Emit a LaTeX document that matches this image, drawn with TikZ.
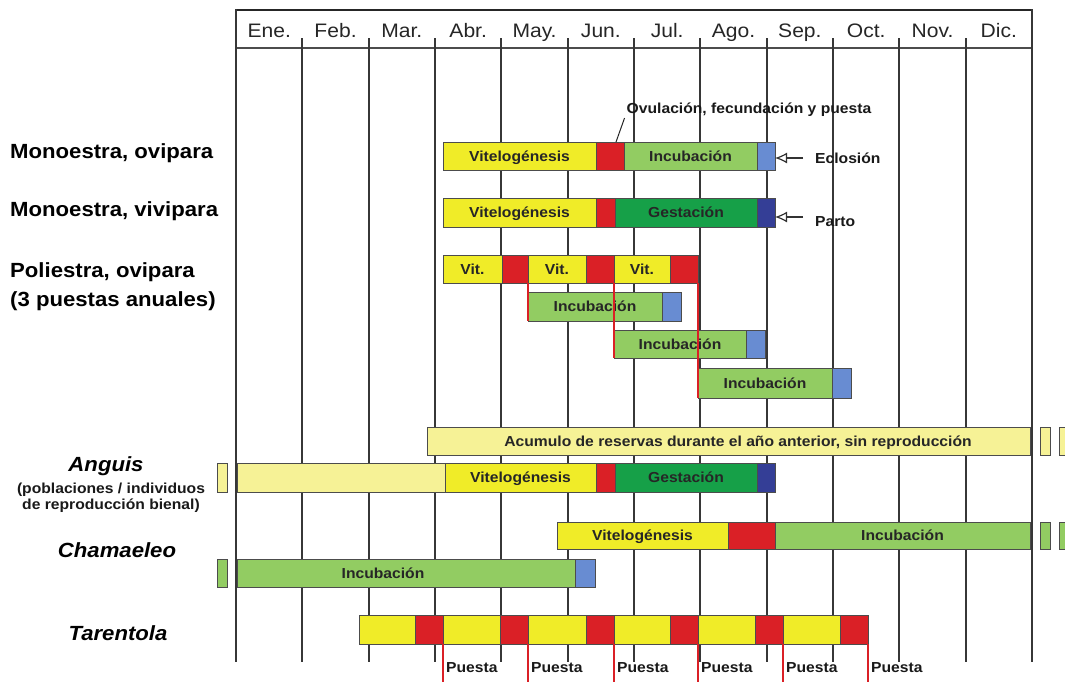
\documentclass[tikz,border=0pt]{standalone}
\usepackage{fontspec}
\setmainfont{Liberation Sans}[FakeStretch=1.08]
\usetikzlibrary{arrows.meta}
\definecolor{cyel}{RGB}{240,236,40}
\definecolor{cpale}{RGB}{246,242,150}
\definecolor{cred}{RGB}{218,32,38}
\definecolor{clgreen}{RGB}{146,204,98}
\definecolor{cdgreen}{RGB}{22,160,72}
\definecolor{clblue}{RGB}{104,140,210}
\definecolor{cdblue}{RGB}{52,62,150}
\definecolor{cgrid}{RGB}{55,55,55}
\newcommand{\segm}[7]{\node[segbox,fill=#2,minimum width={(#5-#4)*1pt},minimum height={(#7-#6)*1pt},anchor=north west] (#1) at (#4,#6) {#3};}
\tikzset{
  segbox/.style={draw=black!70,line width=0.8pt,inner sep=0pt,outer sep=0pt,text height=10.5pt,text depth=0pt,font=\fontsize{14.5}{16}\selectfont\bfseries,text=black!85},
  bartext/.style={inner sep=0pt,text height=10.5pt,text depth=0pt,font=\fontsize{14.5}{16}\selectfont\bfseries,text=black!85},
  smalllab/.style={inner sep=0pt,font=\fontsize{14.5}{16}\selectfont\bfseries,text=black!90},
  rowlab/.style={inner sep=0pt,anchor=west,align=left,font=\fontsize{20.5}{29}\selectfont\bfseries},
  itlab/.style={inner sep=0pt,font=\fontsize{20.5}{24}\selectfont\bfseries\itshape},
  month/.style={inner sep=0pt,anchor=base,font=\fontsize{19.5}{22}\selectfont,text=black!85},
  gridline/.style={draw=cgrid,line width=1.8pt},
  redline/.style={draw=cred,line width=2pt},
  openarrow/.style={draw=black!80,line width=1.2pt,-{Latex[open,length=12pt,width=11pt,fill=white]}},
}
\begin{document}
\begin{tikzpicture}[x=1pt,y=-1pt]
\useasboundingbox (0,0) rectangle (1065,681);
\fill[white] (0,0) rectangle (1065,681);
% header and grid
\draw[draw=black!85,line width=2.5pt] (235,10) -- (1033,10);
\draw[draw=black!70,line width=1.6pt] (236,48) -- (1032,48);
\draw[gridline] (236,9) -- (236,662);
\draw[gridline] (1032,9) -- (1032,662);
\foreach \i in {1,...,11} \draw[gridline] ({236+\i*66.333},38) -- ({236+\i*66.333},662);
\foreach \m [count=\i from 0] in {Ene.,Feb.,Mar.,Abr.,May.,Jun.,Jul.,Ago.,Sep.,Oct.,Nov.,Dic.}
  \node[month] (mo\i) at ({269.2+\i*66.333},37) {\m};
% row labels
\node[rowlab] (l1) at (10,153) {Monoestra, ovipara};
\node[rowlab] (l2) at (10,211) {Monoestra, vivipara};
\node[rowlab] (l3) at (10,287) {Poliestra, ovipara\\(3 puestas anuales)};
\node[itlab] (l4) at (106,466) {Anguis};
\node[smalllab,align=center] (l4b) at (111,498) {(poblaciones / individuos\\de reproducción bienal)};
\node[itlab] (l5) at (117,550) {Chamaeleo};
\node[itlab] (l6) at (118,633) {Tarentola};
% Monoestra ovipara
\segm{m1v}{cyel}{Vitelogénesis}{443}{596}{142}{170}
\segm{m1r}{cred}{}{596}{624}{142}{170}
\segm{m1i}{clgreen}{Incubación}{624}{757}{142}{170}
\segm{m1b}{clblue}{}{757}{775}{142}{170}
\node[smalllab] (ovu) at (749,110) {Ovulación, fecundación y puesta};
\draw[draw=black!85,line width=1pt] ([xshift=-2pt,yshift=-1pt]ovu.south west) -- ([xshift=6pt]m1r.north);
\node[smalllab,anchor=west] (ecl) at (815,158) {Eclosión};
\draw[openarrow,shorten <=12pt] (ecl.west) -- (ecl.west -| m1b.east);
% Monoestra vivipara
\segm{m2v}{cyel}{Vitelogénesis}{443}{596}{198}{227}
\segm{m2r}{cred}{}{596}{615}{198}{227}
\segm{m2g}{cdgreen}{Gestación}{615}{757}{198}{227}
\segm{m2b}{cdblue}{}{757}{775}{198}{227}
\node[smalllab,anchor=west] (par) at (815,222) {Parto};
\draw[openarrow,shorten <=12pt] ([yshift=5pt]par.west) -- ([yshift=5pt]par.west -| m2b.east);
% Poliestra
\segm{p1}{cyel}{Vit.}{443}{502}{255}{283}
\segm{p1r}{cred}{}{502}{528}{255}{283}
\segm{p2}{cyel}{Vit.}{528}{586}{255}{283}
\segm{p2r}{cred}{}{586}{614}{255}{283}
\segm{p3}{cyel}{Vit.}{614}{670}{255}{283}
\segm{p3r}{cred}{}{670}{698}{255}{283}
\segm{i1}{clgreen}{Incubación}{528}{662}{292}{321}
\segm{i1b}{clblue}{}{662}{681}{292}{321}
\segm{i2}{clgreen}{Incubación}{614}{746}{330}{358}
\segm{i2b}{clblue}{}{746}{765}{330}{358}
\segm{i3}{clgreen}{Incubación}{698}{832}{368}{398}
\segm{i3b}{clblue}{}{832}{851}{368}{398}
\draw[redline] (p1r.south east) -- (i1.south west);
\draw[redline] (p2r.south east) -- (i2.south west);
\draw[redline] (p3r.south east) -- (i3.south west);
% Anguis
\segm{acc}{cpale}{}{427}{1030}{427}{455}
\node[bartext] (acct) at (738,441) {Acumulo de reservas durante el año anterior, sin reproducción};
\segm{accx1}{cpale}{}{1040}{1050}{427}{455}
\segm{accx2}{cpale}{}{1059}{1075}{427}{455}
\segm{ax0}{cpale}{}{217}{227}{463}{492}
\segm{a0}{cpale}{}{237}{445}{463}{492}
\segm{av}{cyel}{Vitelogénesis}{445}{596}{463}{492}
\segm{ar}{cred}{}{596}{615}{463}{492}
\segm{ag}{cdgreen}{Gestación}{615}{757}{463}{492}
\segm{ab}{cdblue}{}{757}{775}{463}{492}
% Chamaeleo
\segm{cv}{cyel}{Vitelogénesis}{557}{728}{522}{549}
\segm{cr}{cred}{}{728}{775}{522}{549}
\segm{ci}{clgreen}{Incubación}{775}{1030}{522}{549}
\segm{cx1}{clgreen}{}{1040}{1050}{522}{549}
\segm{cx2}{clgreen}{}{1059}{1075}{522}{549}
\segm{c0x}{clgreen}{}{217}{227}{559}{587}
\segm{c0}{clgreen}{}{237}{575}{559}{587}
\segm{c0b}{clblue}{}{575}{595}{559}{587}
\node[bartext] (c0t) at (383,573) {Incubación};
% Tarentola
\segm{ty1}{cyel}{}{359}{415}{615}{644}
\segm{tr1}{cred}{}{415}{443}{615}{644}
\segm{ty2}{cyel}{}{443}{500}{615}{644}
\segm{tr2}{cred}{}{500}{528}{615}{644}
\segm{ty3}{cyel}{}{528}{586}{615}{644}
\segm{tr3}{cred}{}{586}{614}{615}{644}
\segm{ty4}{cyel}{}{614}{670}{615}{644}
\segm{tr4}{cred}{}{670}{698}{615}{644}
\segm{ty5}{cyel}{}{698}{755}{615}{644}
\segm{tr5}{cred}{}{755}{783}{615}{644}
\segm{ty6}{cyel}{}{783}{840}{615}{644}
\segm{tr6}{cred}{}{840}{868}{615}{644}
\foreach \k in {1,...,6} {
  \coordinate (te\k) at (tr\k.south east |- 0,683);
  \draw[redline] (tr\k.south east) -- (te\k);
  \node[smalllab,anchor=west] (pu\k) at ([xshift=3pt,yshift=-24pt]tr\k.south east) {Puesta};
}
\end{tikzpicture}
\end{document}
